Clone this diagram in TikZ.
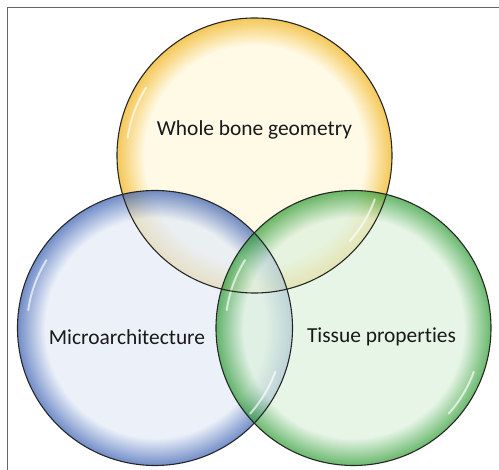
\documentclass[tikz,border=0pt]{standalone}
\usepackage{fontspec}
\setmainfont{Carlito}[Ligatures=NoCommon]
\usepackage{tikz}

\definecolor{ycore}{HTML}{FFF8DC}
\definecolor{yrim}{HTML}{F0B010}
\definecolor{bcore}{HTML}{E2EAF7}
\definecolor{brim}{HTML}{355CB0}
\definecolor{gcore}{HTML}{DDF1DD}
\definecolor{grim}{HTML}{2A9A30}

\pgfdeclareradialshading{bubbleyellow}{\pgfpoint{0bp}{0bp}}{color(0bp)=(ycore); color(20bp)=(ycore); color(25bp)=(yrim); color(50bp)=(yrim)}
\pgfdeclareradialshading{bubbleblue}{\pgfpoint{0bp}{0bp}}{color(0bp)=(bcore); color(20bp)=(bcore); color(25bp)=(brim); color(50bp)=(brim)}
\pgfdeclareradialshading{bubblegreen}{\pgfpoint{0bp}{0bp}}{color(0bp)=(gcore); color(20bp)=(gcore); color(25bp)=(grim); color(50bp)=(grim)}

\begin{document}
\begin{tikzpicture}[x=1pt,y=-1pt]
\tikzset{bubble/.style={circle,minimum size=275pt,inner sep=0pt,fill opacity=.7},
  rim/.style={circle,minimum size=275pt,inner sep=0pt,draw=black!85,line width=1.1pt},
  shine/.style={white,line width=2pt,opacity=.65,line cap=round},
  lbl/.style={font=\fontsize{21.4}{24}\selectfont,text=black!90}}
\useasboundingbox (0,0) rectangle (499,470);

% frame
\draw[black!60,line width=1pt] (499,8) -- (7,8) -- (7,470);

% circles
\node[bubble,shading=bubbleyellow] (geom) at (254.5,155.5) {};
\node[bubble,shading=bubbleblue] (micro) at (155,328) {};
\node[bubble,shading=bubblegreen] (tissue) at (353.5,328) {};

% highlights (y axis points down, so angles are mirrored)
\foreach \c in {geom,micro,tissue}{
  \draw[shine] (\c.center) ++(-148:128) arc (-148:-172:128);
  \draw[shine] (\c.center) ++(20:128) arc (20:42:128);
}

% outlines
\node[rim] (geomrim) at (geom) {};
\node[rim] (microrim) at (micro) {};
\node[rim] (tissuerim) at (tissue) {};

% labels
\node[lbl] (tgeom) at (254.5,130) {Whole bone geometry};
\node[lbl] (tmicro) at (127,337) {Microarchitecture};
\node[lbl] (ttissue) at (381.5,337) {Tissue properties};
\end{tikzpicture}
\end{document}
